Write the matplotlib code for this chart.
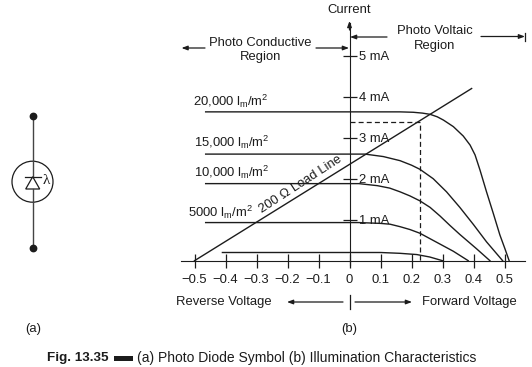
import matplotlib
matplotlib.use("Agg")
import matplotlib.pyplot as plt
from matplotlib.patches import Circle, Polygon, Rectangle

plt.rcParams['font.family'] = ['Liberation Sans', 'DejaVu Sans']
plt.rcParams['mathtext.fontset'] = 'custom'
plt.rcParams['mathtext.rm'] = 'Liberation Sans'
plt.rcParams['mathtext.it'] = 'Liberation Sans'
plt.rcParams['mathtext.bf'] = 'Liberation Sans:bold'

# volts and mA
v_20000 = [-0.464, 0.0, 0.10, 0.163, 0.206, 0.235, 0.26, 0.283, 0.303, 0.335, 0.367, 0.389, 0.405, 0.421, 0.442, 0.464, 0.485, 0.501, 0.515]
i_20000 = [3.63, 3.63, 3.63, 3.63, 3.62, 3.60, 3.57, 3.51, 3.43, 3.27, 3.04, 2.82, 2.58, 2.21, 1.68, 1.15, 0.63, 0.30, 0.0]
v_15000 = [-0.464, 0.0, 0.05, 0.109, 0.163, 0.20, 0.227, 0.27, 0.313, 0.356, 0.40, 0.442, 0.494]
i_15000 = [2.6, 2.6, 2.6, 2.54, 2.44, 2.33, 2.23, 2.00, 1.68, 1.30, 0.88, 0.46, 0.0]
v_10000 = [-0.464, 0.0, 0.03, 0.09, 0.13, 0.163, 0.195, 0.227, 0.26, 0.292, 0.324, 0.356, 0.41, 0.453]
i_10000 = [1.88, 1.88, 1.88, 1.83, 1.77, 1.68, 1.58, 1.46, 1.30, 1.09, 0.86, 0.64, 0.29, 0.0]
v_5000 = [-0.464, 0.0, 0.03, 0.10, 0.131, 0.163, 0.195, 0.227, 0.281, 0.335, 0.383]
i_5000 = [0.93, 0.93, 0.93, 0.91, 0.89, 0.83, 0.76, 0.67, 0.45, 0.23, 0.0]
v_dark = [-0.41, 0.0, 0.10, 0.163, 0.217, 0.259, 0.30]
i_dark = [0.2, 0.2, 0.2, 0.18, 0.15, 0.09, 0.0]
v_load = [-0.5, 0.394]
i_load = [0.0, 4.2]
v_dash = [0.0, 0.227, 0.227]
i_dash = [3.39, 3.39, 0.0]

x_ticks = [-0.5, -0.4, -0.3, -0.2, -0.1, 0, 0.1, 0.2, 0.3, 0.4, 0.5]
x_labels = ["\u22120.5", "\u22120.4", "\u22120.3", "\u22120.2", "\u22120.1", "0", "0.1", "0.2", "0.3", "0.4", "0.5"]
y_ticks = [1, 2, 3, 4, 5]
y_labels = ["1 mA", "2 mA", "3 mA", "4 mA", "5 mA"]

ink = "#1c1c1c"
fs = 9.4

fig = plt.figure(figsize=(5.32, 3.67), dpi=100)
ax = fig.add_axes([0, 0, 1, 1])
ax.set_xlim(-349.5 / 310, (532 - 349.5) / 310)
ax.set_ylim(-(367 - 260.7) / 41, 260.7 / 41)
ax.patch.set_alpha(0)

for side in ["top", "left"]:
    ax.spines[side].set_visible(False)
ax.spines["bottom"].set_position(("data", 0))
ax.spines["right"].set_position(("data", 0))
ax.spines["bottom"].set_bounds(-0.543, 0.567)
ax.spines["right"].set_bounds(-0.1, 5.8)
ax.spines["bottom"].set_color(ink)
ax.spines["right"].set_color(ink)
ax.yaxis.tick_right()
ax.set_xticks(x_ticks, x_labels)
ax.set_yticks(y_ticks, y_labels)
ax.tick_params(axis="x", direction="inout", length=10, width=0.9, pad=4.7, labelsize=fs, color=ink, labelcolor=ink)
ax.tick_params(axis="y", direction="inout", length=9.4, width=0.9, pad=2.2, labelsize=fs, color=ink, labelcolor=ink)

for vs, cs in [(v_20000, i_20000), (v_15000, i_15000), (v_10000, i_10000), (v_5000, i_5000), (v_dark, i_dark)]:
    ax.plot(vs, cs, color=ink, lw=1.0, clip_on=False)
ax.plot(v_load, i_load, color=ink, lw=1.0)
ax.plot(v_dash, i_dash, color=ink, lw=0.9, ls=(0, (4, 2.5)))

# everything else is placed in picture pixels
ov = fig.add_axes([0, 0, 1, 1])
ov.set_xlim(0, 532)
ov.set_ylim(367, 0)
ov.axis("off")
ov.patch.set_alpha(0)


def label(x, y, s, ha="center", **kw):
    ov.text(x, y, s, ha=ha, va="center", fontsize=kw.pop("fontsize", fs), color=ink, **kw)


def arrow(x0, y0, x1, y1):
    ov.annotate("", xy=(x1, y1), xytext=(x0, y0),
                arrowprops=dict(arrowstyle="-|>,head_length=0.35,head_width=0.13", color=ink, lw=0.9,
                                shrinkA=0, shrinkB=0))


label(349, 10, "Current")
arrow(349.5, 30, 349.5, 21)
label(260.7, 42.7, "Photo Conductive")
label(261, 57, "Region")
label(435, 31, "Photo Voltaic")
label(435, 46, "Region")
arrow(205, 48, 181.5, 48)
arrow(316, 48, 349, 48)
arrow(387, 37, 350, 37)
arrow(481, 36.5, 525, 36.5)
ov.plot([525, 525], [33, 41], color=ink, lw=0.9)

label(192.7, 101, r"20,000 l$_{\mathrm{m}}$/m$^{2}$", ha="left")
label(194, 142, r"15,000 l$_{\mathrm{m}}$/m$^{2}$", ha="left")
label(194, 172, r"10,000 l$_{\mathrm{m}}$/m$^{2}$", ha="left")
label(187.7, 212, r"5000 l$_{\mathrm{m}}$/m$^{2}$", ha="left")
label(301, 184, "200 \u03a9 Load Line", rotation=33, rotation_mode="anchor")

label(176, 302, "Reverse Voltage", ha="left")
label(421.7, 302, "Forward Voltage", ha="left")
arrow(343, 302, 287, 302)
arrow(355, 302, 412, 302)
ov.plot([349.5, 349.5], [295, 309], color=ink, lw=0.9)
label(33, 329, "(a)")
label(349, 329, "(b)")

label(47, 358, "Fig. 13.35", ha="left", fontweight="bold", fontsize=9.7)
ov.add_patch(Rectangle((113.5, 356), 19, 4.5, color=ink, lw=0))
label(136.7, 358, "(a) Photo Diode Symbol (b) Illumination Characteristics", ha="left", fontsize=10)

# photo diode symbol
ov.plot([32.7, 32.7], [115.7, 176.7], color="#444444", lw=1.0)
ov.plot([32.7, 32.7], [189, 248], color="#444444", lw=1.0)
ov.plot([32.7, 32.7], [115.7, 248], "o", color=ink, ms=4.6, markevery=[0, 1])
ov.add_patch(Circle((32.5, 181.7), 20.5, fill=False, ec=ink, lw=0.9))
ov.add_patch(Polygon([(32.7, 176.7), (25.7, 189), (39.7, 189)], fill=False, ec=ink, lw=0.9))
ov.plot([24.7, 40.7], [176.7, 176.7], color=ink, lw=0.9)
label(46, 180, "\u03bb", fontsize=11, family=["Liberation Serif", "DejaVu Serif"])

fig.savefig("out.png", dpi=100)
